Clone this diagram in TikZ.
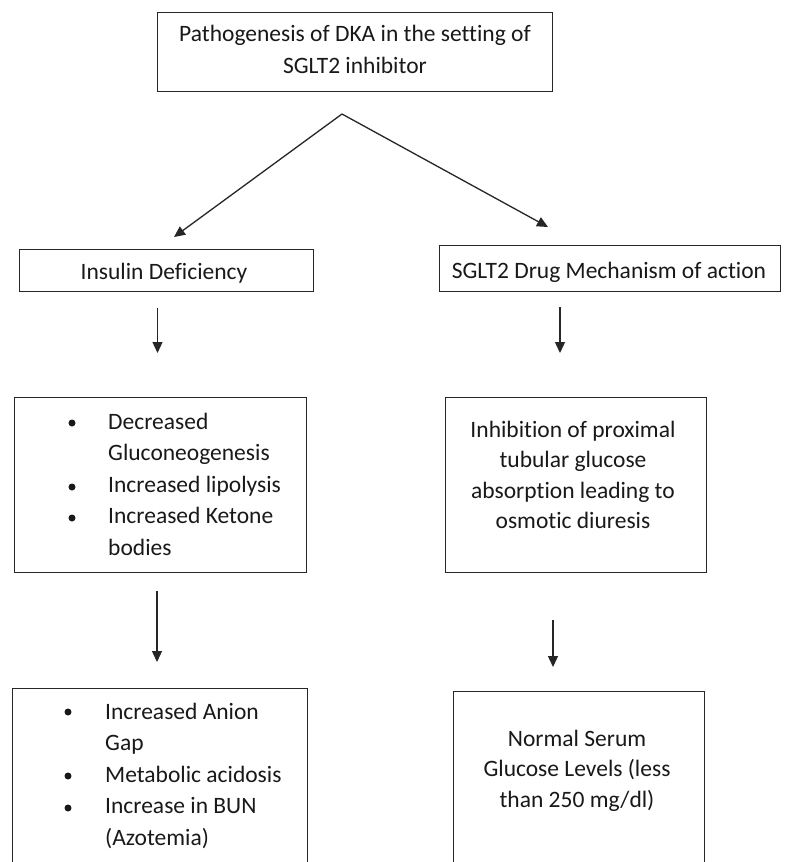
\documentclass[tikz,border=0pt]{standalone}
\usepackage{fontspec}
\setmainfont[Ligatures=NoCommon]{Carlito}
\usetikzlibrary{arrows.meta}
\begin{document}
\begin{tikzpicture}[x=1pt,y=-1pt,
  box/.style={draw=black!85, line width=1.3pt, inner sep=0pt, anchor=north west},
  txt/.style={font=\fontsize{23.5}{31}\selectfont, inner sep=0pt, text=black!90},
  bul/.style={circle, fill=black!90, inner sep=0pt, minimum size=7pt},
  arr/.style={draw=black!85, line width=1.3pt, -{Triangle[length=11pt,width=10pt]}},
]
\useasboundingbox (0,0) rectangle (795,862);
\clip (0,0) rectangle (795,862);
\fill[white] (0,0) rectangle (795,862);

% boxes
\node[box, minimum width=395pt, minimum height=79pt] (top) at (157,12) {};
\node[box, minimum width=294pt, minimum height=42pt] (ins) at (19,249) {};
\node[box, minimum width=341pt, minimum height=46pt] (mech) at (439,245) {};
\node[box, minimum width=292pt, minimum height=175pt] (lb1) at (14,397) {};
\node[box, minimum width=261pt, minimum height=175pt] (rb1) at (445,397) {};
\node[box, minimum width=295pt, minimum height=220pt] (lb2) at (12,688) {};
\node[box, minimum width=251pt, minimum height=220pt] (rb2) at (453,691) {};

% top text
\node[txt, anchor=base] (t1) at (355,41) {Pathogenesis of DKA in the setting of};
\node[txt, anchor=base] (t2) at (355,73) {SGLT2 inhibitor};

\node[txt, anchor=base] (tins) at (164,279) {Insulin Deficiency};
\node[txt, anchor=base] (tmech) at (609,278) {SGLT2 Drug Mechanism of action};

% left box 1
\node[bul] (b11) at (72,423) {};
\node[bul] (b12) at (72,487) {};
\node[bul] (b13) at (72,518) {};
\node[txt, anchor=base west] (l11) at (108,429) {Decreased};
\node[txt, anchor=base west] (l12) at (108,460.5) {Gluconeogenesis};
\node[txt, anchor=base west] (l13) at (108,492) {Increased lipolysis};
\node[txt, anchor=base west] (l14) at (108,523.5) {Increased Ketone};
\node[txt, anchor=base west] (l15) at (108,555) {bodies};

% right box 1
\node[txt, anchor=base] (r11) at (573,437) {Inhibition of proximal};
\node[txt, anchor=base] (r12) at (573,467.5) {tubular glucose};
\node[txt, anchor=base] (r13) at (573,498) {absorption leading to};
\node[txt, anchor=base] (r14) at (573,528.5) {osmotic diuresis};

% left box 2
\node[bul] (b21) at (68,712) {};
\node[bul] (b22) at (68,776) {};
\node[bul] (b23) at (68,808) {};
\node[txt, anchor=base west] (l21) at (105,719) {Increased Anion};
\node[txt, anchor=base west] (l22) at (105,750.5) {Gap};
\node[txt, anchor=base west] (l23) at (105,782) {Metabolic acidosis};
\node[txt, anchor=base west] (l24) at (105,813.5) {Increase in BUN};
\node[txt, anchor=base west] (l25) at (105,845) {(Azotemia)};

% right box 2
\node[txt, anchor=base] (r21) at (577,746) {Normal Serum};
\node[txt, anchor=base] (r22) at (577,776.5) {Glucose Levels (less};
\node[txt, anchor=base] (r23) at (577,807) {than 250 mg/dl)};

% connector points
\coordinate (apex) at (342,114);
\coordinate (tipL) at (174,237);
\coordinate (tipR) at (548,227);
\coordinate (s1) at (157.5,308);
\coordinate (e1) at (157.5,353);
\coordinate (s2) at (560,307);
\coordinate (e2) at (560,353);
\coordinate (s3) at (157,591);
\coordinate (e3) at (157,662);
\coordinate (s4) at (553,620);
\coordinate (e4) at (553,667);

\draw[arr] (apex) -- (tipL);
\draw[arr] (apex) -- (tipR);
\draw[arr] (s1) -- (e1);
\draw[arr] (s2) -- (e2);
\draw[arr] (s3) -- (e3);
\draw[arr] (s4) -- (e4);
\end{tikzpicture}
\end{document}
